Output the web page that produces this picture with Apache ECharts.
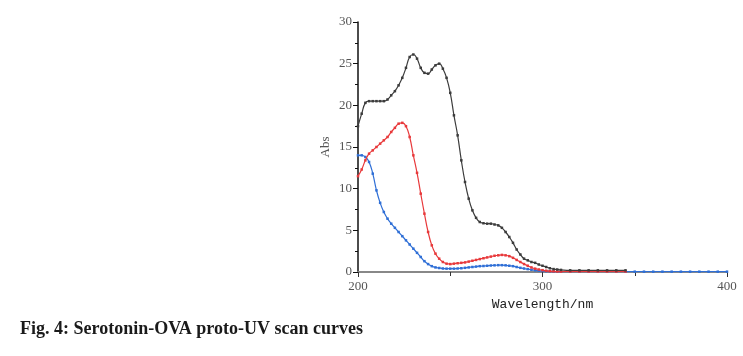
<!DOCTYPE html>
<html><head><meta charset="utf-8">
<script src="https://cdn.jsdelivr.net/npm/echarts@6/dist/echarts.min.js"></script>
<style>html,body{margin:0;padding:0;background:#fff;}#c{width:743px;height:356px;}</style>
</head><body><div id="c"></div>
<script>
const wavelengths = [200,202,204,206,208,210,212,214,216,218,220,222,224,226,228,230,232,234,236,238,240,242,244,246,248,250,252,254,256,258,260,262,264,266,268,270,272,274,276,278,280,282,284,286,288,290,292,294,296,298,300,302,304,306,308,310,315,320,325,330,335,340,345];
const tailWavelengths = [350,355,360,365,370,375,380,385,390,395,400];
const blackAbs = [17.5,19.0,20.3,20.5,20.5,20.5,20.5,20.5,20.7,21.2,21.7,22.4,23.3,24.5,25.8,26.1,25.6,24.5,23.9,23.8,24.3,24.8,25.0,24.4,23.3,21.5,18.8,16.4,13.4,10.8,8.8,7.4,6.5,6.0,5.85,5.8,5.8,5.7,5.6,5.3,4.8,4.2,3.5,2.7,2.1,1.6,1.4,1.2,1.1,0.9,0.75,0.6,0.45,0.35,0.3,0.25,0.2,0.2,0.2,0.2,0.2,0.2,0.2];
const redAbs = [11.5,12.3,13.4,14.2,14.6,15.0,15.4,15.8,16.2,16.8,17.3,17.8,17.9,17.5,16.2,14.0,11.9,9.4,7.0,4.8,3.2,2.2,1.6,1.2,1.0,0.95,1.0,1.05,1.1,1.15,1.25,1.35,1.45,1.55,1.65,1.75,1.85,1.95,2.0,2.05,2.0,1.9,1.7,1.45,1.2,0.95,0.75,0.55,0.4,0.3,0.22,0.15,0.1,0.08,0.06,0.05,0.05,0.05,0.05,0.05,0.05,0.05,0.05];
const blueAbs = [14.0,14.0,13.8,13.2,11.8,9.8,8.3,7.2,6.4,5.8,5.3,4.8,4.3,3.8,3.3,2.8,2.3,1.8,1.3,0.95,0.7,0.55,0.48,0.42,0.4,0.4,0.4,0.42,0.45,0.5,0.55,0.6,0.65,0.7,0.72,0.75,0.78,0.8,0.82,0.82,0.8,0.75,0.7,0.6,0.5,0.42,0.35,0.27,0.2,0.15,0.12,0.1,0.08,0.06,0.05,0.05,0.04,0.04,0.04,0.04,0.04,0.04,0.04];
const blueTail = [0.04,0.04,0.04,0.04,0.04,0.04,0.04,0.04,0.04,0.04,0.04];
const yTicks = [0,5,10,15,20,25,30];
const xTicks = [200,300,400];

function pairs(xs, ys){ return xs.map((x,i)=>[x, ys[i]]); }

const chart = echarts.init(document.getElementById('c'));
const serif = '"Liberation Serif", "DejaVu Serif", serif';
chart.setOption({
  animation:false,
  backgroundColor:'#fff',
  grid:{left:358, right:16, top:22, bottom:84},
  xAxis:{
    type:'value', min:xTicks[0], max:xTicks[xTicks.length-1], interval:100,
    name:'Wavelength/nm', nameLocation:'middle', nameGap:25,
    nameTextStyle:{fontFamily:'"Liberation Mono", "DejaVu Sans Mono", monospace', fontSize:13, color:'#222'},
    axisLine:{lineStyle:{color:'#888', width:2}},
    axisTick:{show:true, length:5, lineStyle:{color:'#333', width:1}},
    minorTick:{show:true, splitNumber:2, length:4, lineStyle:{color:'#333'}},
    axisLabel:{fontFamily:serif, fontSize:13, color:'#555', margin:8},
    splitLine:{show:false}
  },
  yAxis:{
    type:'value', min:yTicks[0], max:yTicks[yTicks.length-1], interval:5,
    name:'Abs', nameLocation:'middle', nameGap:26, nameRotate:90,
    nameTextStyle:{fontFamily:serif, fontSize:13, color:'#555'},
    axisLine:{lineStyle:{color:'#111', width:1.5}},
    axisTick:{show:true, length:5, lineStyle:{color:'#111'}},
    minorTick:{show:true, splitNumber:2, length:3, lineStyle:{color:'#111'}},
    axisLabel:{fontFamily:serif, fontSize:13, color:'#555', margin:6},
    splitLine:{show:false}
  },
  series:[
    {type:'line', data:pairs(wavelengths, blueAbs).concat(pairs(tailWavelengths, blueTail)), smooth:true,
     symbol:'rect', symbolSize:2.5, showSymbol:true, lineStyle:{color:'#2f6fd6', width:1.2}, itemStyle:{color:'#2f6fd6'}, z:3},
    {type:'line', data:pairs(wavelengths, redAbs), smooth:true,
     symbol:'rect', symbolSize:2.5, showSymbol:true, lineStyle:{color:'#e8393b', width:1.2}, itemStyle:{color:'#e8393b'}, z:4},
    {type:'line', data:pairs(wavelengths, blackAbs), smooth:true,
     symbol:'rect', symbolSize:2.5, showSymbol:true, lineStyle:{color:'#3c3c3c', width:1.2}, itemStyle:{color:'#3c3c3c'}, z:5}
  ],
  graphic:[
    {type:'text', left:20, top:320, style:{text:'Fig. 4: Serotonin-OVA proto-UV scan curves', font:'bold 18px "Liberation Serif", "Times New Roman", serif', fill:'#1a1a1a'}}
  ]
});
</script></body></html>
